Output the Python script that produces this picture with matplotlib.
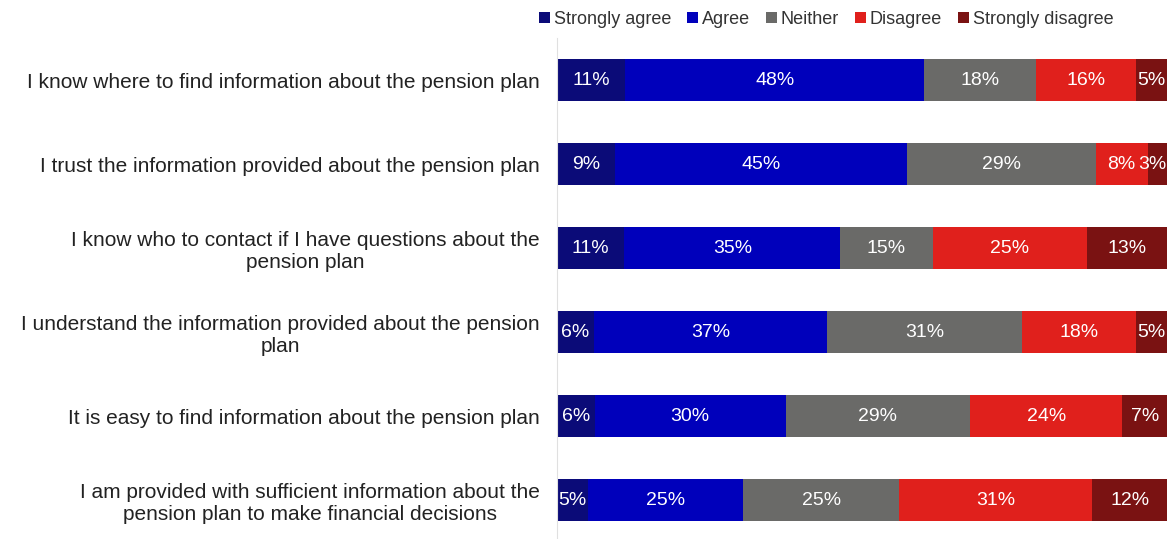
import matplotlib
matplotlib.use("Agg")
import matplotlib.pyplot as plt
import numpy as np

plt.rcParams['font.family'] = ['Liberation Sans Narrow', 'Liberation Sans', 'DejaVu Sans']

statements = [
    "I know where to find information about the pension plan",
    "I trust the information provided about the pension plan",
    "I know who to contact if I have questions about the\npension plan",
    "I understand the information provided about the pension\nplan",
    "It is easy to find information about the pension plan",
    "I am provided with sufficient information about the\npension plan to make financial decisions",
]
responses = ["Strongly agree", "Agree", "Neither", "Disagree", "Strongly disagree"]
strongly_agree = [11, 9, 11, 6, 6, 5]
agree = [48, 45, 35, 37, 30, 25]
neither = [18, 29, 15, 31, 29, 25]
disagree = [16, 8, 25, 18, 24, 31]
strongly_disagree = [5, 3, 13, 5, 7, 12]
colors = ["#0b0b78", "#0000bb", "#6a6a68", "#e0201c", "#7a1212"]

series = np.array([strongly_agree, agree, neither, disagree, strongly_disagree], dtype=float)
# 100% stacked: each row scaled to its own total
shares = series / series.sum(axis=0) * 100

fig = plt.figure(figsize=(11.67, 5.39), dpi=100)
ax = fig.add_axes([0.477, 0.0, 0.523, 0.9295])

y = np.arange(len(statements))
left = np.zeros(len(statements))
for i, name in enumerate(responses):
    bars = ax.barh(y, shares[i], left=left, height=0.5, color=colors[i],
                   label=name, edgecolor='none')
    for j, b in enumerate(bars):
        cx = b.get_x() + b.get_width() / 2
        label = f"{int(series[i, j])}%"
        if cx > 97.5:
            # keep narrow end labels inside the plot
            ax.text(99.9, y[j], label, ha='right', va='center',
                    color='white', fontsize=14)
        else:
            ax.text(cx, y[j], label, ha='center', va='center',
                    color='white', fontsize=14, clip_on=False)
    left += shares[i]

ax.set_xlim(0, 100)
ax.set_ylim(5.464, -0.5)
ax.set_yticks(y)
ax.set_yticklabels(statements, fontsize=15, multialignment='center', color='#222222')
ax.tick_params(axis='y', length=0, pad=12)
ax.set_xticks([])
for side in ['top', 'right', 'bottom']:
    ax.spines[side].set_visible(False)
ax.spines['left'].set_color('#e0e0e0')

fig.legend(loc='upper center', bbox_to_anchor=(0.708, 1.01), ncol=5, frameon=False,
           fontsize=13, handlelength=0.6, handleheight=0.6, handletextpad=0.2,
           columnspacing=0.9, labelcolor='#333333')

fig.savefig("out.png", dpi=100)
